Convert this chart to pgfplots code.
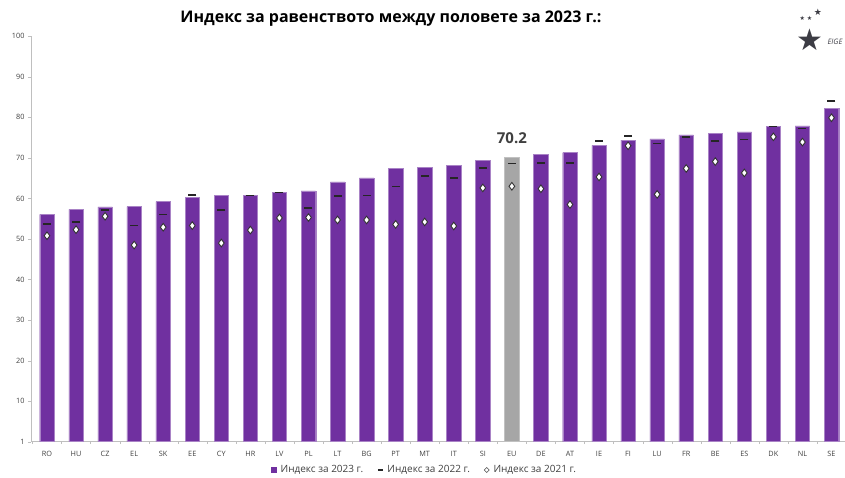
\documentclass[border=0pt]{standalone}
\usepackage{pgfplots}
\pgfplotsset{compat=1.18}
\usepackage{pgfplotstable}
\usepackage{fontspec}
\setmainfont{Open Sans}
\newfontfamily\dejavu{DejaVu Sans}
\definecolor{barpurple}{HTML}{7030A0}
\definecolor{eugray}{HTML}{A6A6A6}
\definecolor{axgray}{HTML}{BFBFBF}
\definecolor{txtgray}{HTML}{404040}
\definecolor{logogray}{HTML}{3C3C44}

\pgfplotstableread{
x lab v23 v22 v21
0 RO 56.1 53.7 50.8
1 HU 57.3 54.2 52.3
2 CZ 57.9 57.2 55.6
3 EL 58.0 53.3 48.5
4 SK 59.2 56.1 52.9
5 EE 60.2 60.9 53.3
6 CY 60.7 57.2 49.0
7 HR 60.7 60.7 52.2
8 LV 61.5 61.5 55.2
9 PL 61.9 57.7 55.3
10 LT 64.1 60.6 54.7
11 BG 65.1 60.7 54.7
12 PT 67.4 62.9 53.6
13 MT 67.6 65.5 54.2
14 IT 68.2 65.0 53.2
15 SI 69.4 67.5 62.6
16 EU 70.2 68.6 63.0
17 DE 70.8 68.7 62.4
18 AT 71.3 68.7 58.5
19 IE 73.1 74.2 65.3
20 FI 74.4 75.4 73.0
21 LU 74.7 73.6 61.0
22 FR 75.7 75.1 67.4
23 BE 76.0 74.2 69.1
24 ES 76.4 74.5 66.3
25 DK 77.8 77.7 75.2
26 NL 77.9 77.2 73.9
27 SE 82.2 84.0 79.9
}\data

\begin{document}
\begin{tikzpicture}
\path[use as bounding box] (0,0) rectangle (845pt,478pt);
\begin{axis}[
  at={(31pt,36.3pt)}, anchor=south west,
  width=815pt, height=405.4pt, scale only axis,
  ymin=0, ymax=100, xmin=-0.55, xmax=27.5,
  axis x line*=bottom, axis y line*=left,
  axis line style={axgray, -},
  ytick={0,10,...,100},
  yticklabels={1,10,20,30,40,50,60,70,80,90,100},
  xtick={0,...,27},
  xticklabels from table={\data}{lab},
  minor xtick={-0.5,0.5,...,27.5},
  major x tick style={draw=none},
  minor x tick style={axgray},
  y tick style={axgray},
  tick align=outside,
  major tick length=3pt, minor tick length=2.5pt,
  tick label style={font=\fontsize{7.3}{8}\selectfont, text=txtgray},
  /pgf/number format/assume math mode=true,
  xticklabel style={yshift=-3pt},
  legend columns=3,
  legend style={at={(0.483,-0.07)}, anchor=center, draw=none, fill=none,
    font=\fontsize{10}{11}\selectfont, text=txtgray,
    /tikz/every even column/.append style={column sep=12pt},
    /tikz/every odd column/.append style={column sep=2pt}},
  legend cell align=left,
]
\addplot[ybar, bar width=14.5pt, bar shift=0pt, fill=barpurple, draw=barpurple!60!white, line width=0.4pt,
  legend image code/.code={\fill[barpurple] (0pt,-2.5pt) rectangle (5pt,2.5pt);}]
  table[x=x, y=v23] {\data};
\addlegendentry{Индекс за 2023 г.}
\addplot[ybar, bar width=14.5pt, bar shift=0pt, fill=eugray, draw=eugray!70!white, line width=0.4pt, forget plot]
  coordinates {(16,70.2)};
\addplot[only marks, mark=-, mark size=4pt, mark options={line width=1.5pt, black!85},
  legend image code/.code={\draw[line width=1.3pt, black!85] (0pt,0pt) -- (5pt,0pt);}]
  table[x=x, y=v22] {\data};
\addlegendentry{Индекс за 2022 г.}
\addplot[only marks, mark=diamond*, mark size=3.8pt, mark options={fill=white, draw=black!80, line width=0.9pt},
  legend image code/.code={\draw[fill=white, draw=black!70, line width=0.5pt] (2.5pt,-2.5pt) -- (5pt,0pt) -- (2.5pt,2.5pt) -- (0pt,0pt) -- cycle;}]
  table[x=x, y=v21] {\data};
\addlegendentry{Индекс за 2021 г.}
\node[anchor=south, font=\bfseries\fontsize{15}{16}\selectfont, text=txtgray, inner sep=0pt] at (axis cs:16,73.5) {70.2};
\end{axis}
\node[font=\bfseries\fontsize{16}{18}\selectfont, anchor=center] at (391pt,459pt) {Индекс за равенството между половете за 2023 г.:};
% logo
\node[font=\dejavu\fontsize{6}{6}\selectfont, text=logogray, inner sep=0pt] at (806pt,460pt) {★ ★};
\node[font=\dejavu\fontsize{9}{9}\selectfont, text=logogray, inner sep=0pt] at (818pt,466pt) {★};
\node[font=\dejavu\fontsize{30}{30}\selectfont, text=logogray, inner sep=0pt] at (810pt,438pt) {★};
\node[font=\fontsize{7.5}{8}\selectfont\itshape, text=logogray, inner sep=0pt] at (835pt,436pt) {EIGE};
\end{tikzpicture}
\end{document}
